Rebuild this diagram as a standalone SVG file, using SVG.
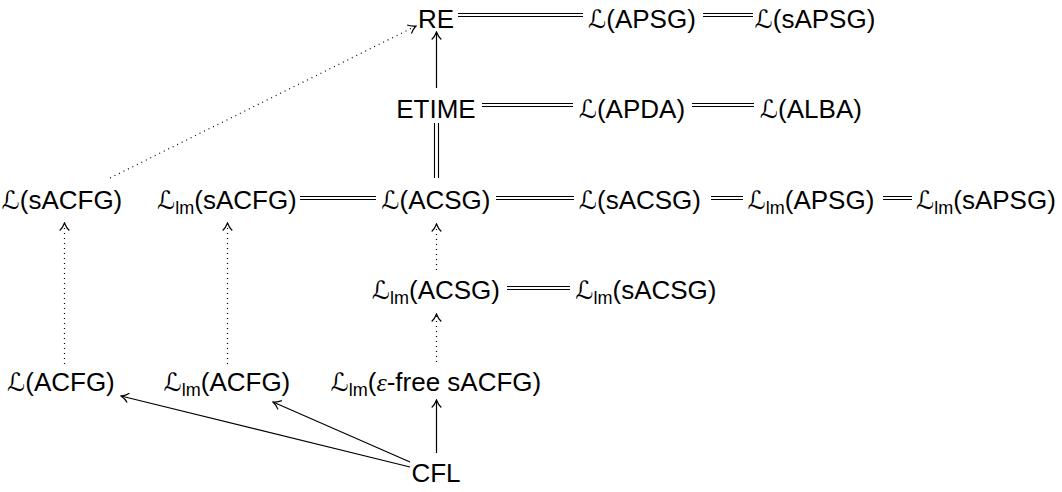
<svg xmlns="http://www.w3.org/2000/svg" width="1062" height="492" viewBox="0 0 1062 492">
<style>
text{font-family:"Liberation Sans",Arial,sans-serif;font-size:26px;fill:#000;text-anchor:middle}
.L{font-family:"DejaVu Sans",sans-serif;font-size:25px}
.sub{font-size:18px}
.eps{font-family:"Liberation Serif",serif;font-style:italic}
.eq{stroke:#000;stroke-width:1.1;fill:none}
.ar{stroke:#000;stroke-width:1.2;fill:none}
.dot{stroke:#000;stroke-width:1.2;fill:none;stroke-dasharray:1 4}
</style>
<defs>
<marker id="to" viewBox="-9 -6 10 12" refX="0" refY="0" markerWidth="10" markerHeight="12" markerUnits="userSpaceOnUse" orient="auto">
<path d="M-7.5,-4.8 C-5.5,-2.6 -2.5,-0.9 0,0 C-2.5,0.9 -5.5,2.6 -7.5,4.8" fill="none" stroke="#000" stroke-width="1.2" stroke-dasharray="none"/>
</marker>
</defs>

<g id="connectors">
<path class="eq" d="M458,13.5H583M458,16.5H583"/>
<path class="eq" d="M703,13.5H753M703,16.5H753"/>
<path class="eq" d="M482,103.5H573M482,106.5H573"/>
<path class="eq" d="M692,103.5H754M692,106.5H754"/>
<path class="eq" d="M300,196.5H376M300,199.5H376"/>
<path class="eq" d="M496,196.5H574M496,199.5H574"/>
<path class="eq" d="M711,196.5H743M711,199.5H743"/>
<path class="eq" d="M883,196.5H912M883,199.5H912"/>
<path class="eq" d="M507,286.5H570M507,289.5H570"/>
<path class="eq" d="M434.5,123V178M438.5,123V178"/>
<path class="ar" d="M436.5,88V32" marker-end="url(#to)"/>
<path class="dot" d="M436.5,270V224" marker-end="url(#to)"/>
<path class="dot" d="M436.5,362V314" marker-end="url(#to)"/>
<path class="dot" d="M64.5,364V223" marker-end="url(#to)"/>
<path class="dot" d="M227.5,364V223" marker-end="url(#to)"/>
<path class="dot" d="M110,178L416,26" marker-end="url(#to)"/>
<path class="ar" d="M436.5,453V400" marker-end="url(#to)"/>
<path class="ar" d="M410,467L121,396" marker-end="url(#to)"/>
<path class="ar" d="M410,462L273,402" marker-end="url(#to)"/>
</g>

<g id="n-RE"><text x="436" y="28">RE</text></g>
<g id="n-L-APSG"><text x="642" y="28"><tspan class="L">ℒ</tspan>(APSG)</text></g>
<g id="n-L-sAPSG"><text x="815" y="28"><tspan class="L">ℒ</tspan>(sAPSG)</text></g>

<g id="n-ETIME"><text x="436" y="118">ETIME</text></g>
<g id="n-L-APDA"><text x="632" y="118"><tspan class="L">ℒ</tspan>(APDA)</text></g>
<g id="n-L-ALBA"><text x="811" y="118"><tspan class="L">ℒ</tspan>(ALBA)</text></g>

<g id="n-L-sACFG"><text x="62" y="209"><tspan class="L">ℒ</tspan>(sACFG)</text></g>
<g id="n-Llm-sACFG"><text x="227" y="209"><tspan class="L">ℒ</tspan><tspan class="sub" dy="5">lm</tspan><tspan dy="-5">(sACFG)</tspan></text></g>
<g id="n-L-ACSG"><text x="436" y="209"><tspan class="L">ℒ</tspan>(ACSG)</text></g>
<g id="n-L-sACSG"><text x="640" y="209"><tspan class="L">ℒ</tspan>(sACSG)</text></g>
<g id="n-Llm-APSG"><text x="811" y="209"><tspan class="L">ℒ</tspan><tspan class="sub" dy="5">lm</tspan><tspan dy="-5">(APSG)</tspan></text></g>
<g id="n-Llm-sAPSG"><text x="986" y="209"><tspan class="L">ℒ</tspan><tspan class="sub" dy="5">lm</tspan><tspan dy="-5">(sAPSG)</tspan></text></g>

<g id="n-Llm-ACSG"><text x="436" y="299"><tspan class="L">ℒ</tspan><tspan class="sub" dy="5">lm</tspan><tspan dy="-5">(ACSG)</tspan></text></g>
<g id="n-Llm-sACSG"><text x="646" y="299"><tspan class="L">ℒ</tspan><tspan class="sub" dy="5">lm</tspan><tspan dy="-5">(sACSG)</tspan></text></g>

<g id="n-L-ACFG"><text x="61" y="391"><tspan class="L">ℒ</tspan>(ACFG)</text></g>
<g id="n-Llm-ACFG"><text x="227" y="391"><tspan class="L">ℒ</tspan><tspan class="sub" dy="5">lm</tspan><tspan dy="-5">(ACFG)</tspan></text></g>
<g id="n-Llm-efree"><text x="436" y="391"><tspan class="L">ℒ</tspan><tspan class="sub" dy="5">lm</tspan><tspan dy="-5">(</tspan><tspan class="eps">ε</tspan>-free sACFG)</text></g>

<g id="n-CFL"><text x="436" y="482">CFL</text></g>
</svg>
